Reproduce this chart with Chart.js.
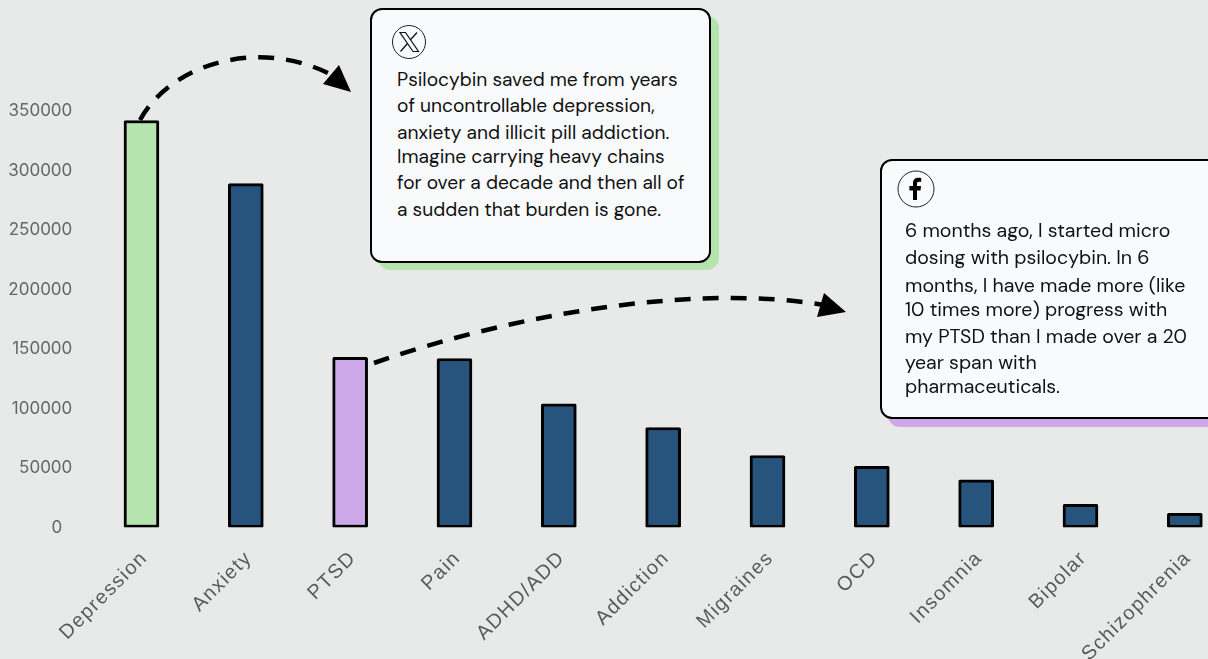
<!DOCTYPE html>
<html><head><meta charset="utf-8">
<script src="https://cdn.jsdelivr.net/npm/chart.js@4"></script>
<style>
html,body{margin:0;padding:0;background:#E8EAE9;width:1208px;height:659px;overflow:hidden}
#wrap{position:relative;width:1208px;height:659px;overflow:hidden}
#c{position:absolute;left:0;top:0}
.card{position:absolute;box-sizing:border-box;background:#F9FAFC;border:2px solid #000;border-radius:12px;font-family:"DM Sans",Inter,"Noto Sans",sans-serif;color:#111;font-size:19.2px;line-height:26px;white-space:pre;}
.card span{position:absolute;white-space:pre}
.shadow{position:absolute;border-radius:12px}
svg{position:absolute;left:0;top:0}
</style></head><body>
<div id="wrap">
<canvas id="c"></canvas>
<svg width="1208" height="659" viewBox="0 0 1208 659">
<path d="M140 120 C170 65 255 38 328 73" fill="none" stroke="#000" stroke-width="4.5" stroke-dasharray="16 12"/>
<polygon points="339,65 351,92 323,84" fill="#000"/>
<path d="M374 363 C520 312 700 284 824 305" fill="none" stroke="#000" stroke-width="4.5" stroke-dasharray="16 12"/>
<polygon points="824,293 846,312 817,317" fill="#000"/>
</svg>
<div class="shadow" style="left:378px;top:16px;width:341px;height:254px;background:#B5E4AE"></div>
<div class="card" style="left:370px;top:8px;width:341px;height:255px">
<svg width="36" height="36" style="left:19px;top:14px" viewBox="0 0 36 36"><circle cx="18" cy="18" r="16.5" fill="#F9FAFC" stroke="#222" stroke-width="1"/><path d="M9 8.5h5.5l13 19h-5.5z" fill="none" stroke="#111" stroke-width="1.2"/><path d="M26 8.5L19.2 16M16.5 19.5L9.5 27.5" fill="none" stroke="#111" stroke-width="1.3"/></svg>
<span style="left:25px;top:57px">Psilocybin saved me from years</span>
<span style="left:25px;top:83px">of uncontrollable depression,</span>
<span style="left:25px;top:110px">anxiety and illicit pill addiction.</span>
<span style="left:25px;top:134px">Imagine carrying heavy chains</span>
<span style="left:25px;top:160px">for over a decade and then all of</span>
<span style="left:25px;top:187px">a sudden that burden is gone.</span>
</div>
<div class="shadow" style="left:888px;top:167px;width:340px;height:260px;background:#CCA8E9"></div>
<div class="card" style="left:880px;top:159px;width:340px;height:260px;font-size:19.55px">
<svg width="40" height="40" style="left:14px;top:8px" viewBox="0 0 40 40"><circle cx="20" cy="20" r="18" fill="#F9FAFC" stroke="#222" stroke-width="1"/><path d="M17 31V21.5h-3.6v-4.4H17v-3c0-3.5 2.1-5.4 5.2-5.4 1.4 0 2.6.1 3 .2v3.8h-2.2c-1.6 0-2 .8-2 1.9v2.5h4l-.5 4.4h-3.5V31z" fill="#000"/></svg>
<span style="left:23px;top:57px">6 months ago, I started micro</span>
<span style="left:23px;top:84px">dosing with psilocybin. In 6</span>
<span style="left:23px;top:112px">months, I have made more (like</span>
<span style="left:23px;top:136px">10 times more) progress with</span>
<span style="left:23px;top:163px">my PTSD than I made over a 20</span>
<span style="left:23px;top:189px">year span with</span>
<span style="left:23px;top:213px">pharmaceuticals.</span>
</div>
</div>
<script>
const categories = ["Depression","Anxiety","PTSD","Pain","ADHD/ADD","Addiction","Migraines","OCD","Insomnia","Bipolar","Schizophrenia"];
const mentions = [342000,289000,143000,142000,104000,84000,60500,51500,40000,19500,12000];
const barColors = ["#B5E4AE","#26547C","#CCA8E9","#26547C","#26547C","#26547C","#26547C","#26547C","#26547C","#26547C","#26547C"];
const yTicks = [0,50000,100000,150000,200000,250000,300000,350000];
const cv = document.getElementById('c');
cv.style.width='1237px';cv.style.height='659px';cv.width=1237;cv.height=659;
const spacing={id:'spacing',
  afterDatasetsDraw(c){c.ctx.letterSpacing='1.4px';},
  afterDraw(c){c.ctx.letterSpacing='0px';}};
new Chart(cv,{
  type:'bar',
  plugins:[spacing],
  data:{labels:categories,datasets:[{data:mentions,backgroundColor:barColors,borderColor:'#000',borderWidth:3,borderSkipped:false,borderRadius:1.5,barThickness:35}]},
  options:{responsive:false,animation:false,devicePixelRatio:1,
    layout:{padding:{top:111,left:0,right:0,bottom:0}},
    plugins:{legend:{display:false},tooltip:{enabled:false}},
    scales:{
      x:{grid:{display:false,drawTicks:false},border:{display:false},
         afterFit(s){s.height=131.5;},
         ticks:{z:1,minRotation:45,maxRotation:45,autoSkip:false,padding:19,labelOffset:3,color:'#5a5a5a',font:{family:'"Liberation Sans"',size:20}}},
      y:{min:0,max:350000,grid:{display:false,drawTicks:false},border:{display:false},
         afterBuildTicks(s){s.ticks=yTicks.map(v=>({value:v}));},
         afterFit(s){s.width=89.3;},
         ticks:{padding:17,color:'#666',font:{family:'Inter',size:17},callback(v){return v===0?'0\u2002\u200a':String(v);}}}
    }
  }
});
</script>
</body></html>
